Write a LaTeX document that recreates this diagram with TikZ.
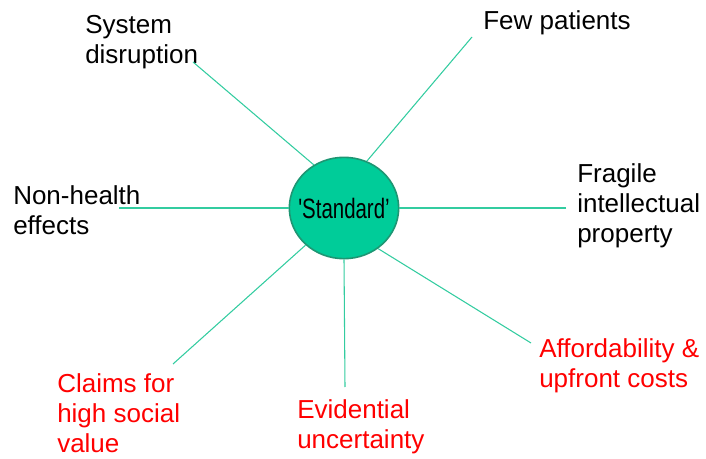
\documentclass[tikz,border=0pt]{standalone}
\usepackage{fontspec}
\setmainfont{Liberation Sans}[Ligatures=TeXOff]
\usetikzlibrary{shapes.geometric}
\definecolor{hubfill}{RGB}{0,204,153}
\definecolor{hubrim}{RGB}{30,150,115}
\definecolor{spokecol}{RGB}{51,204,160}
\begin{document}
\begin{tikzpicture}[x=0.75pt,y=-0.75pt,
        lbl/.style={anchor=base west,align=left,inner sep=0pt,font=\fontsize{19.5}{22.5}\selectfont},
        hot/.style={lbl,text=red},
        spoke/.style={draw=spokecol,line width=0.8pt}]
        \useasboundingbox (0,0) rectangle (706,459);
        % hub
        \node[ellipse,draw=hubrim,fill=hubfill,line width=1.2pt,minimum width=82pt,minimum height=76pt,inner sep=0pt](hub)at(344,208){\makebox[0pt][c]{\scalebox{0.73}[1]{\fontsize{21}{24}\selectfont 'Standard’}}};
        % labels (placed at the baseline of the last line)
        \node[lbl](sys)at(85,64){System\\disruption};
        \node[lbl](few)at(483,30){Few patients};
        \node[lbl](frag)at(577,243){Fragile\\intellectual\\property};
        \node[lbl](nonh)at(13,235){Non-health\\effects};
        \node[hot](claim)at(57,452){Claims for\\high social\\value};
        \node[hot](evid)at(297,448){Evidential\\uncertainty};
        \node[hot](afford)at(539,387){Affordability \&\\upfront costs};
        % spoke ends
        \coordinate(s1)at(193,62);
        \coordinate(s2)at(472,37);
        \coordinate(s3)at(566,208);
        \coordinate(s4)at(119,208);
        \coordinate(s5)at(173,364);
        \coordinate(s6)at(345,387);
        \coordinate(s7)at(531,343);
        \draw[spoke](s1)--(hub.125.8);
        \draw[spoke](s2)--(hub.64.4);
        \draw[spoke](s3)--(hub.0);
        \draw[spoke](s4)--(hub.180);
        \draw[spoke](s5)--(hub.224.2);
        \draw[spoke](s6)--(hub.270);
        \draw[spoke](s7)--(hub.310.4);
\end{tikzpicture}
\end{document}
